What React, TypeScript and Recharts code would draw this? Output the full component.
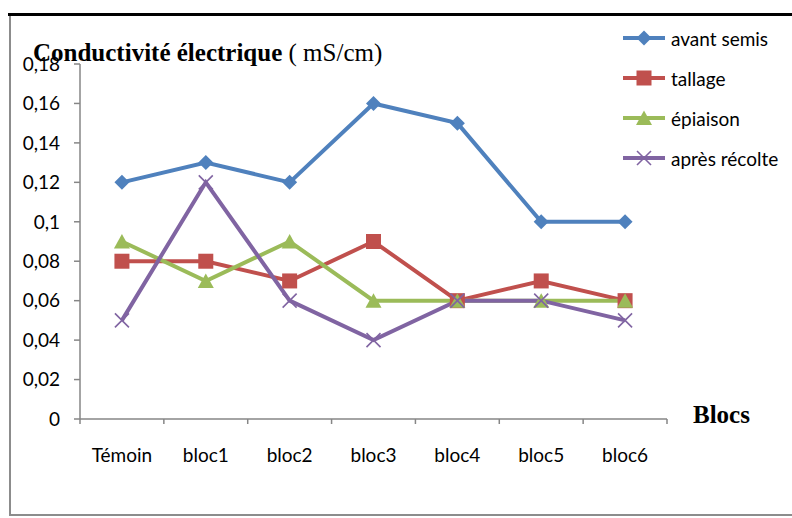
import React from 'react'
import { LineChart, Line, XAxis, YAxis, Legend } from 'recharts'

const categories = ['Témoin', 'bloc1', 'bloc2', 'bloc3', 'bloc4', 'bloc5', 'bloc6']
const avantSemis = [0.12, 0.13, 0.12, 0.16, 0.15, 0.1, 0.1]
const tallage = [0.08, 0.08, 0.07, 0.09, 0.06, 0.07, 0.06]
const epiaison = [0.09, 0.07, 0.09, 0.06, 0.06, 0.06, 0.06]
const apresRecolte = [0.05, 0.12, 0.06, 0.04, 0.06, 0.06, 0.05]
const yTicks = [0, 0.02, 0.04, 0.06, 0.08, 0.1, 0.12, 0.14, 0.16, 0.18]

// Office 2007 palette
const SERIES = [
  { key: 'avant', name: 'avant semis', color: '#4F81BD', shape: 'diamond' },
  { key: 'tallage', name: 'tallage', color: '#C0504D', shape: 'square' },
  { key: 'epiaison', name: 'épiaison', color: '#9BBB59', shape: 'triangle' },
  { key: 'apres', name: 'après récolte', color: '#8064A2', shape: 'x' },
]

const data = categories.map((cat, i) => ({
  cat,
  avant: avantSemis[i],
  tallage: tallage[i],
  epiaison: epiaison[i],
  apres: apresRecolte[i],
}))

const W = 792
const H = 518
const PLOT_LEFT = 80
const PLOT_RIGHT = 667
const PLOT_TOP = 64
const PLOT_BOTTOM = 419
const Y_AXIS_W = 60
const X_AXIS_H = 30
const BAND = (PLOT_RIGHT - PLOT_LEFT) / categories.length

const AXIS_COLOR = '#868686'
const FONT = 'Lato, "Open Sans", sans-serif'

function Marker({ shape, cx, cy, color }: { shape: string; cx: number; cy: number; color: string }) {
  if (shape === 'diamond') {
    const r = 7.5
    return <polygon points={`${cx},${cy - r} ${cx + r},${cy} ${cx},${cy + r} ${cx - r},${cy}`} fill={color} />
  }
  if (shape === 'square') {
    return <rect x={cx - 7.5} y={cy - 7.5} width={15} height={15} fill={color} />
  }
  if (shape === 'triangle') {
    return <polygon points={`${cx},${cy - 7.5} ${cx + 8},${cy + 7} ${cx - 8},${cy + 7}`} fill={color} />
  }
  const r = 7
  return (
    <g stroke={color} strokeWidth={1.6}>
      <line x1={cx - r} y1={cy - r} x2={cx + r} y2={cy + r} />
      <line x1={cx - r} y1={cy + r} x2={cx + r} y2={cy - r} />
    </g>
  )
}

function XTick(props: any) {
  const { x, y, payload, index } = props
  return (
    <g>
      {index === 0 && <line x1={x - BAND / 2} y1={y} x2={x - BAND / 2} y2={y + 5} stroke={AXIS_COLOR} strokeWidth={1.5} />}
      <line x1={x + BAND / 2} y1={y} x2={x + BAND / 2} y2={y + 5} stroke={AXIS_COLOR} strokeWidth={1.5} />
      <text x={x} y={y + 43} textAnchor="middle" fill="#000" fontSize={19} fontFamily={FONT}>
        {payload.value}
      </text>
    </g>
  )
}

// legend keeps the series order, not the alphabetical one
function LegendContent() {
  return (
    <div style={{ fontFamily: FONT, fontSize: 19, color: '#000' }}>
      {SERIES.map((s) => (
        <div key={s.key} style={{ display: 'flex', alignItems: 'center', height: 40 }}>
          <svg width={46} height={20} style={{ display: 'block' }}>
            <line x1={2} y1={10} x2={44} y2={10} stroke={s.color} strokeWidth={4} />
            <Marker shape={s.shape} cx={23} cy={10} color={s.color} />
          </svg>
          <span style={{ marginLeft: 4, whiteSpace: 'nowrap' }}>{s.name}</span>
        </div>
      ))}
    </div>
  )
}

export default function App() {
  return (
    <div style={{ position: 'absolute', left: 0, top: 0, width: W, height: H, background: '#fff' }}>
      <div style={{ position: 'absolute', left: 8, right: 0, top: 13, height: 3, background: '#000' }} />
      <div style={{ position: 'absolute', left: 9, top: 16, width: 2, height: 499, background: '#8c8c8c' }} />
      <div style={{ position: 'absolute', left: 9, right: 0, top: 514, height: 2, background: '#8c8c8c' }} />

      <div style={{ position: 'absolute', left: 0, top: 0 }}>
        <LineChart
          width={W}
          height={H}
          data={data}
          margin={{
            top: PLOT_TOP,
            right: W - PLOT_RIGHT,
            bottom: H - PLOT_BOTTOM - X_AXIS_H,
            left: PLOT_LEFT - Y_AXIS_W,
          }}
        >
          <XAxis
            dataKey="cat"
            scale="band"
            height={X_AXIS_H}
            interval={0}
            tickLine={false}
            tickSize={0}
            tickMargin={0}
            tick={<XTick />}
            axisLine={{ stroke: AXIS_COLOR, strokeWidth: 1.5 }}
          />
          <YAxis
            width={Y_AXIS_W}
            domain={[0, 0.18]}
            ticks={yTicks}
            interval={0}
            tickSize={6}
            tickMargin={14}
            tickFormatter={(v: number) => String(v).replace('.', ',')}
            tick={{ fill: '#000', fontSize: 19, fontFamily: FONT }}
            tickLine={{ stroke: AXIS_COLOR, strokeWidth: 1.5 }}
            axisLine={{ stroke: AXIS_COLOR, strokeWidth: 1.5 }}
          />
          <Legend
            layout="vertical"
            verticalAlign="middle"
            align="center"
            content={<LegendContent />}
            wrapperStyle={{ left: 621, top: 18, width: 170 }}
          />
          {SERIES.map((s) => (
            <Line
              key={s.key}
              dataKey={s.key}
              name={s.name}
              stroke={s.color}
              strokeWidth={4}
              isAnimationActive={false}
              dot={(p: any) => <Marker key={`${s.key}-${p.index}`} shape={s.shape} cx={p.cx} cy={p.cy} color={s.color} />}
              activeDot={false}
            />
          ))}
        </LineChart>
      </div>

      <svg width={W} height={H} style={{ position: 'absolute', left: 0, top: 0, pointerEvents: 'none' }}>
        <text x={33} y={61} fontFamily='"Liberation Serif", "Times New Roman", serif' fontSize={25} fill="#000">
          <tspan fontWeight="bold">Conductivité électrique</tspan>
          <tspan> ( mS/cm)</tspan>
        </text>
        <text x={693} y={423} fontFamily='"Liberation Serif", "Times New Roman", serif' fontSize={25} fontWeight="bold" fill="#000">
          Blocs
        </text>
      </svg>
    </div>
  )
}
